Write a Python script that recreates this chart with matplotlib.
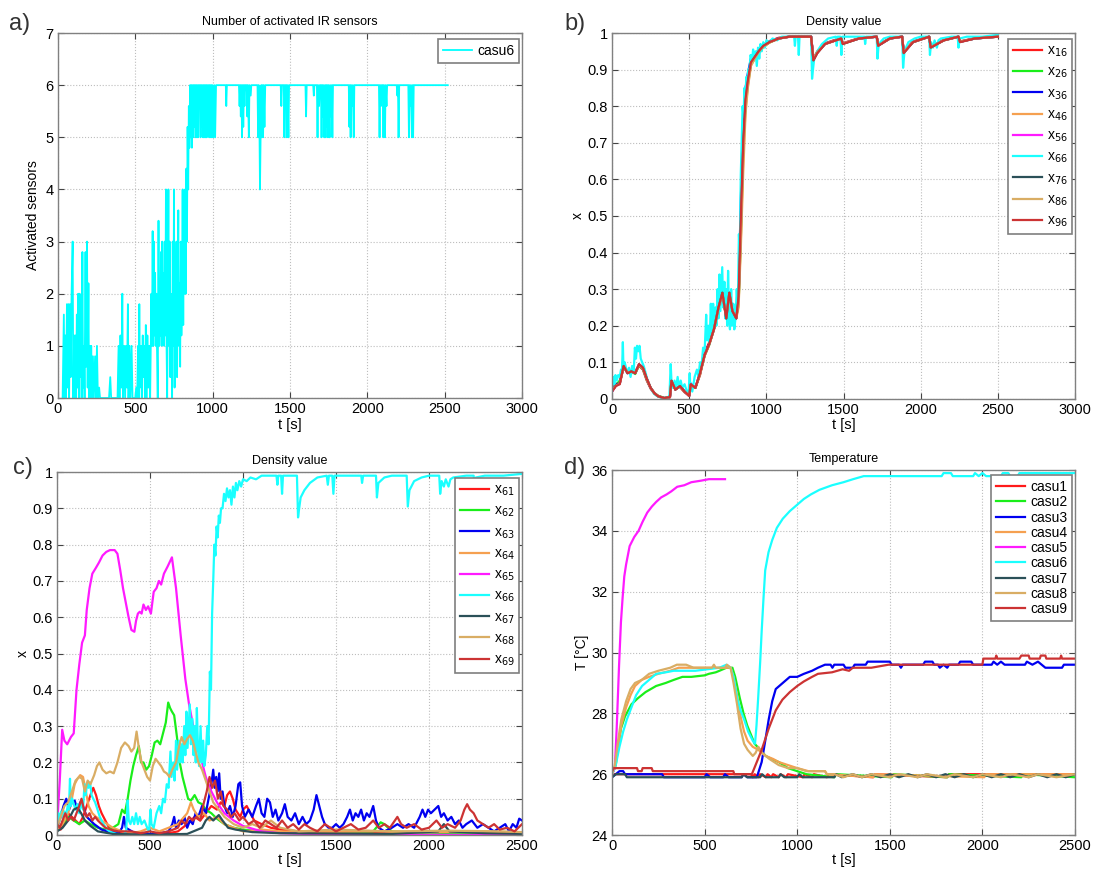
import numpy as np
import matplotlib
matplotlib.use('Agg')
import matplotlib.pyplot as plt
from matplotlib.ticker import FuncFormatter

plt.rcParams['font.family'] = ['Liberation Sans', 'DejaVu Sans']

# ---------------- panel a: activated IR sensors (casu6) ----------------
ir_casu6 = [
    (30, 0), (38, 1.6), (42, 0), (48, 1.2), (52, 0), (58, 1.8), (62, 0.2), (68, 1.8), (72, 0),
    (78, 1.8), (82, 0.4), (88, 2.0), (95, 3.0), (99, 0), (104, 1.2), (108, 0), (113, 1.2), (117, 0),
    (122, 1.6), (126, 0.2), (131, 2.0), (135, 0), (140, 2.0), (144, 0.4), (149, 1.6), (153, 0),
    (158, 2.8), (162, 0.2), (168, 1.0), (172, 0), (178, 2.8), (182, 0.6), (188, 3.0), (192, 0.2),
    (197, 2.2), (201, 0), (206, 1.0), (210, 0), (215, 1.0), (220, 0), (226, 0.8), (232, 0),
    (240, 0.8), (246, 0), (252, 1.0), (258, 0), (266, 0.2), (272, 0),
    (330, 0), (338, 0.4), (344, 0), (385, 0), (392, 1.0), (398, 0), (404, 1.2), (410, 0.2),
    (416, 2.0), (420, 0), (428, 1.0), (434, 0), (440, 1.0), (446, 0.2), (452, 1.8), (456, 0),
    (462, 1.0), (468, 0), (476, 1.0), (482, 0), (500, 0), (506, 0.2), (512, 0), (518, 1.0),
    (522, 0), (526, 1.8), (530, 0.2), (536, 1.0), (542, 0), (548, 1.2), (552, 0.4), (558, 1.0),
    (562, 0), (568, 1.4), (572, 0), (578, 1.2), (584, 0.2), (590, 1.0), (596, 0),
    (600, 1.0), (604, 2.0), (608, 1.0), (612, 3.2), (616, 1.0), (620, 3.0), (624, 1.2), (628, 2.4),
    (632, 1.0), (636, 2.0), (640, 1.0), (645, 0), (650, 3.4), (654, 1.0), (658, 2.0), (662, 1.2),
    (666, 2.8), (670, 1.0), (674, 3.0), (678, 1.6), (682, 2.4), (686, 1.0), (690, 3.0), (694, 1.2),
    (698, 4.0), (702, 1.0), (706, 0), (710, 2.0), (714, 4.0), (718, 1.0), (722, 3.0), (726, 0.4),
    (730, 2.0), (734, 1.0), (738, 0), (742, 3.0), (746, 1.0), (750, 4.0), (754, 0.2), (758, 2.6),
    (762, 1.0), (766, 3.0), (770, 0.4), (774, 2.0), (778, 3.6), (782, 1.0), (786, 2.2), (790, 0.6),
    (794, 3.0), (798, 1.2), (802, 2.0), (806, 4.0), (810, 1.4), (814, 3.6), (818, 2.0), (822, 4.0),
    (826, 2.0), (830, 4.4), (834, 3.0), (838, 5.2), (842, 4.0), (846, 5.6), (850, 4.8), (854, 6.0),
    (858, 5.0), (862, 6.0), (866, 4.8), (870, 6.0), (874, 5.0), (878, 6.0), (882, 5.2), (886, 6.0),
    (890, 5.0), (894, 6.0), (898, 5.0), (902, 6.0), (906, 5.0), (910, 6.0), (914, 5.6), (918, 6.0),
    (922, 5.0), (926, 6.0), (930, 5.2), (934, 6.0), (938, 5.0), (942, 6.0), (946, 5.0), (950, 6.0),
    (954, 5.0), (958, 6.0), (962, 5.0), (966, 6.0), (970, 5.4), (974, 6.0), (978, 5.0), (982, 6.0),
    (986, 5.0), (990, 6.0), (994, 5.0), (998, 6.0), (1004, 5.0), (1010, 6.0), (1016, 5.0), (1022, 6.0),
    (1085, 6), (1088, 5.6), (1092, 6), (1170, 6), (1174, 5.6), (1178, 6), (1182, 5.4), (1186, 6),
    (1190, 5), (1194, 6), (1198, 5.2), (1202, 6), (1206, 5.6), (1210, 6), (1220, 6), (1224, 5.4),
    (1228, 6), (1234, 5), (1238, 6), (1246, 5.8), (1250, 6), (1290, 6), (1294, 5), (1298, 6),
    (1302, 5.4), (1306, 4), (1310, 5), (1314, 6), (1318, 5), (1322, 6), (1326, 5), (1330, 6),
    (1335, 5.2), (1340, 6), (1440, 6), (1444, 5.6), (1448, 6), (1460, 6), (1464, 5), (1468, 6),
    (1472, 5.8), (1476, 6), (1480, 5), (1484, 6), (1490, 5), (1494, 6), (1600, 6), (1604, 5.4),
    (1608, 6), (1650, 6), (1654, 5.8), (1658, 6), (1674, 6), (1678, 5), (1682, 6), (1688, 5.6),
    (1692, 6), (1700, 6), (1704, 5), (1708, 6), (1712, 5.4), (1716, 6), (1722, 5), (1726, 6),
    (1730, 5), (1734, 6), (1738, 5.2), (1742, 6), (1746, 5), (1750, 6), (1756, 5), (1760, 6),
    (1766, 5.4), (1770, 6), (1774, 5), (1778, 6), (1880, 6), (1884, 5.2), (1888, 6), (1892, 5.0),
    (1896, 6), (1902, 5.6), (1906, 6), (1912, 5), (1916, 6), (2075, 6), (2079, 5), (2083, 6),
    (2088, 5.6), (2092, 6), (2100, 6), (2104, 5), (2108, 6), (2114, 5), (2118, 6), (2124, 5.6),
    (2128, 6), (2190, 6), (2194, 5.8), (2198, 6), (2202, 5), (2206, 6), (2265, 6), (2269, 5),
    (2273, 6), (2278, 5.6), (2282, 6), (2288, 5), (2292, 6), (2296, 5), (2300, 6), (2520, 6),
]

# ---------------- panel b: density x_i6 ----------------
t_b = [0, 25, 50, 75, 100,
       125, 150, 175, 200, 225,
       250, 275, 300, 340, 375,
       385, 410, 440, 470, 500,
       510, 540, 570, 600, 630,
       660, 690, 715, 740, 760,
       780, 805, 820, 835, 850,
       865, 880, 900, 925, 950,
       980, 1020, 1080, 1150, 1290,
       1305, 1330, 1380, 1450, 1485,
       1495, 1600, 1715, 1725, 1800,
       1880, 1890, 1950, 2055, 2065,
       2150, 2245, 2255, 2350, 2500]

x16 = [0.03, 0.04, 0.045, 0.085, 0.075, 0.07, 0.075, 0.09, 0.08, 0.05,
       0.028, 0.014, 0.006, 0.002, 0.004, 0.045, 0.028, 0.032, 0.018, 0.01,
       0.035, 0.032, 0.065, 0.125, 0.155, 0.2, 0.24, 0.28, 0.23, 0.28,
       0.245, 0.225, 0.27, 0.48, 0.72, 0.84, 0.88, 0.925, 0.94, 0.955,
       0.968, 0.978, 0.987, 0.99, 0.99, 0.93, 0.95, 0.972, 0.982, 0.986,
       0.972, 0.986, 0.99, 0.968, 0.986, 0.99, 0.95, 0.977, 0.99, 0.962,
       0.982, 0.99, 0.977, 0.986, 0.99]
x26 = [0.025, 0.038, 0.05, 0.088, 0.072, 0.078, 0.068, 0.092, 0.082, 0.052,
       0.03, 0.016, 0.008, 0.003, 0.005, 0.048, 0.026, 0.034, 0.02, 0.009,
       0.038, 0.03, 0.068, 0.118, 0.148, 0.19, 0.245, 0.285, 0.225, 0.285,
       0.24, 0.225, 0.26, 0.45, 0.68, 0.8, 0.86, 0.915, 0.93, 0.948,
       0.962, 0.974, 0.985, 0.99, 0.99, 0.928, 0.946, 0.97, 0.98, 0.985,
       0.97, 0.985, 0.99, 0.966, 0.985, 0.99, 0.948, 0.975, 0.99, 0.961,
       0.98, 0.99, 0.976, 0.985, 0.99]
x36 = [0.02, 0.04, 0.042, 0.092, 0.07, 0.074, 0.072, 0.094, 0.086, 0.054,
       0.029, 0.015, 0.007, 0.002, 0.005, 0.05, 0.026, 0.036, 0.02, 0.008,
       0.042, 0.03, 0.07, 0.122, 0.152, 0.19, 0.25, 0.29, 0.225, 0.29,
       0.24, 0.22, 0.3, 0.55, 0.75, 0.85, 0.89, 0.93, 0.94, 0.952,
       0.966, 0.976, 0.986, 0.99, 0.99, 0.928, 0.947, 0.971, 0.981, 0.985,
       0.971, 0.985, 0.99, 0.966, 0.985, 0.99, 0.946, 0.976, 0.99, 0.961,
       0.981, 0.99, 0.976, 0.985, 0.99]
x46 = [0.022, 0.036, 0.044, 0.088, 0.072, 0.072, 0.07, 0.093, 0.084, 0.056,
       0.031, 0.016, 0.008, 0.002, 0.005, 0.047, 0.027, 0.034, 0.019, 0.009,
       0.038, 0.031, 0.066, 0.118, 0.148, 0.188, 0.245, 0.285, 0.22, 0.285,
       0.24, 0.22, 0.25, 0.42, 0.62, 0.78, 0.85, 0.91, 0.93, 0.946,
       0.962, 0.974, 0.985, 0.99, 0.99, 0.93, 0.948, 0.971, 0.981, 0.985,
       0.972, 0.985, 0.99, 0.967, 0.985, 0.99, 0.948, 0.976, 0.99, 0.962,
       0.981, 0.99, 0.977, 0.985, 0.99]
x56 = [0.02, 0.036, 0.042, 0.09, 0.071, 0.076, 0.071, 0.094, 0.085, 0.055,
       0.03, 0.015, 0.007, 0.002, 0.005, 0.049, 0.026, 0.035, 0.02, 0.008,
       0.04, 0.031, 0.069, 0.12, 0.15, 0.19, 0.248, 0.288, 0.222, 0.288,
       0.242, 0.222, 0.275, 0.49, 0.7, 0.82, 0.87, 0.92, 0.935, 0.95,
       0.965, 0.975, 0.985, 0.99, 0.99, 0.927, 0.946, 0.97, 0.98, 0.985,
       0.971, 0.985, 0.99, 0.966, 0.985, 0.99, 0.947, 0.975, 0.99, 0.961,
       0.98, 0.99, 0.976, 0.985, 0.99]
x76 = [0.021, 0.037, 0.043, 0.089, 0.071, 0.075, 0.07, 0.094, 0.085, 0.055,
       0.03, 0.015, 0.007, 0.002, 0.005, 0.049, 0.025, 0.035, 0.02, 0.008,
       0.039, 0.03, 0.069, 0.12, 0.15, 0.19, 0.25, 0.29, 0.22, 0.29,
       0.24, 0.22, 0.27, 0.47, 0.69, 0.81, 0.865, 0.918, 0.934, 0.95,
       0.964, 0.975, 0.985, 0.99, 0.99, 0.926, 0.946, 0.97, 0.98, 0.985,
       0.971, 0.985, 0.99, 0.966, 0.985, 0.99, 0.946, 0.975, 0.99, 0.961,
       0.98, 0.99, 0.976, 0.985, 0.99]
x86 = [0.022, 0.036, 0.041, 0.088, 0.072, 0.074, 0.071, 0.093, 0.084, 0.054,
       0.029, 0.015, 0.007, 0.002, 0.005, 0.048, 0.026, 0.034, 0.02, 0.008,
       0.039, 0.03, 0.068, 0.119, 0.149, 0.19, 0.248, 0.287, 0.222, 0.288,
       0.241, 0.221, 0.26, 0.44, 0.66, 0.79, 0.855, 0.912, 0.93, 0.948,
       0.963, 0.974, 0.985, 0.99, 0.99, 0.928, 0.947, 0.97, 0.98, 0.985,
       0.971, 0.985, 0.99, 0.966, 0.985, 0.99, 0.947, 0.975, 0.99, 0.961,
       0.98, 0.99, 0.976, 0.985, 0.99]
x96 = [0.02, 0.035, 0.04, 0.09, 0.07, 0.075, 0.07, 0.095, 0.085, 0.055,
       0.03, 0.015, 0.007, 0.002, 0.005, 0.05, 0.025, 0.035, 0.02, 0.008,
       0.04, 0.03, 0.07, 0.12, 0.15, 0.19, 0.25, 0.29, 0.22, 0.29,
       0.24, 0.22, 0.28, 0.5, 0.7, 0.82, 0.87, 0.92, 0.935, 0.95,
       0.965, 0.975, 0.985, 0.99, 0.99, 0.925, 0.945, 0.97, 0.98, 0.985,
       0.97, 0.985, 0.99, 0.965, 0.985, 0.99, 0.945, 0.975, 0.99, 0.96,
       0.98, 0.99, 0.975, 0.985, 0.99]

# x66 (casu6 density) is shared by panels b and c
x66 = [
    (0, 0.03), (8, 0.06), (15, 0.04), (22, 0.065), (30, 0.05), (40, 0.065), (50, 0.06), (58, 0.08),
    (64, 0.07), (70, 0.155), (74, 0.08), (82, 0.1), (90, 0.085), (100, 0.07), (110, 0.085),
    (120, 0.06), (130, 0.09), (140, 0.07), (148, 0.14), (155, 0.11), (162, 0.145), (170, 0.13),
    (178, 0.145), (186, 0.11), (195, 0.1), (205, 0.09), (215, 0.075), (230, 0.05), (250, 0.03),
    (270, 0.015), (290, 0.008), (320, 0.003), (360, 0.002), (372, 0.01), (380, 0.095), (386, 0.04),
    (395, 0.03), (405, 0.05), (415, 0.03), (425, 0.06), (435, 0.03), (445, 0.05), (455, 0.03),
    (470, 0.04), (485, 0.02), (495, 0.01), (503, 0.07), (508, 0.03), (520, 0.02), (535, 0.06),
    (550, 0.08), (560, 0.06), (570, 0.1), (580, 0.09), (590, 0.14), (600, 0.13), (610, 0.23),
    (616, 0.16), (625, 0.2), (632, 0.15), (640, 0.26), (646, 0.18), (655, 0.26), (662, 0.2),
    (670, 0.25), (676, 0.2), (684, 0.3), (690, 0.22), (696, 0.34), (702, 0.24), (708, 0.3),
    (714, 0.36), (720, 0.25), (728, 0.32), (734, 0.22), (740, 0.3), (746, 0.2), (752, 0.35),
    (758, 0.24), (764, 0.19), (772, 0.3), (778, 0.2), (786, 0.26), (792, 0.19), (800, 0.22),
    (808, 0.3), (815, 0.25), (822, 0.45), (828, 0.4), (834, 0.61), (840, 0.7), (846, 0.8),
    (852, 0.77), (858, 0.85), (864, 0.82), (870, 0.88), (876, 0.86), (882, 0.9), (890, 0.9),
    (898, 0.94), (906, 0.92), (914, 0.955), (922, 0.93), (930, 0.95), (938, 0.91), (946, 0.96),
    (954, 0.93), (962, 0.97), (970, 0.95), (980, 0.975), (990, 0.96), (1000, 0.98), (1020, 0.975),
    (1040, 0.985), (1070, 0.98), (1100, 0.99), (1150, 0.99), (1180, 0.99), (1185, 0.965),
    (1190, 0.99), (1205, 0.99), (1210, 0.94), (1215, 0.99), (1280, 0.99), (1290, 0.99),
    (1296, 0.875), (1302, 0.9), (1310, 0.93), (1330, 0.95), (1360, 0.97), (1400, 0.985),
    (1450, 0.99), (1456, 0.965), (1462, 0.99), (1480, 0.99), (1486, 0.94), (1492, 0.99),
    (1550, 0.99), (1600, 0.99), (1636, 0.99), (1640, 0.97), (1646, 0.99), (1715, 0.99),
    (1720, 0.93), (1728, 0.97), (1760, 0.985), (1800, 0.99), (1880, 0.99), (1886, 0.905),
    (1895, 0.95), (1920, 0.975), (1960, 0.985), (2000, 0.99), (2055, 0.99), (2060, 0.94),
    (2068, 0.975), (2080, 0.96), (2090, 0.98), (2105, 0.96), (2115, 0.98), (2130, 0.985),
    (2200, 0.99), (2240, 0.99), (2245, 0.96), (2252, 0.985), (2300, 0.99), (2400, 0.99),
    (2500, 0.995),
]

# ---------------- panel c: density x_6j ----------------
x61 = [(0, 0.02), (20, 0.015), (40, 0.03), (60, 0.06), (80, 0.05), (100, 0.04), (120, 0.03),
       (140, 0.05), (160, 0.08), (180, 0.11), (195, 0.13), (210, 0.11), (225, 0.08), (240, 0.06),
       (260, 0.04), (280, 0.02), (300, 0.01), (350, 0.005), (400, 0.003), (500, 0.002),
       (600, 0.005), (650, 0.01), (700, 0.03), (740, 0.05), (770, 0.04), (800, 0.06), (830, 0.08),
       (860, 0.07), (880, 0.09), (900, 0.08), (915, 0.11), (930, 0.12), (945, 0.1), (960, 0.07),
       (985, 0.05), (1000, 0.07), (1020, 0.08), (1040, 0.06), (1060, 0.04), (1100, 0.03),
       (1150, 0.02), (1200, 0.015), (1300, 0.01), (1400, 0.008), (1600, 0.006), (1800, 0.005),
       (2000, 0.01), (2100, 0.005), (2300, 0.008), (2500, 0.005)]
x62 = [(0, 0.02), (30, 0.03), (60, 0.05), (90, 0.04), (120, 0.03), (150, 0.04), (180, 0.03),
       (220, 0.02), (260, 0.015), (300, 0.02), (330, 0.03), (350, 0.07), (365, 0.06), (380, 0.1),
       (395, 0.15), (410, 0.19), (425, 0.22), (440, 0.245), (452, 0.2), (465, 0.2), (480, 0.18),
       (495, 0.19), (510, 0.22), (525, 0.255), (540, 0.26), (555, 0.25), (570, 0.28), (585, 0.31),
       (598, 0.365), (608, 0.35), (618, 0.34), (630, 0.33), (645, 0.27), (660, 0.2), (675, 0.16),
       (690, 0.13), (705, 0.1), (720, 0.095), (740, 0.11), (760, 0.09), (780, 0.085), (800, 0.07),
       (830, 0.06), (860, 0.045), (900, 0.03), (950, 0.02), (1000, 0.015), (1100, 0.01),
       (1300, 0.006), (1500, 0.005), (1700, 0.01), (1740, 0.035), (1760, 0.03), (1800, 0.01),
       (2000, 0.005), (2500, 0.003)]
x63 = [(0, 0.02), (20, 0.05), (35, 0.08), (50, 0.1), (65, 0.07), (80, 0.09), (95, 0.095),
       (110, 0.07), (125, 0.09), (140, 0.08), (160, 0.05), (180, 0.04), (200, 0.03), (240, 0.015),
       (280, 0.008), (330, 0.005), (350, 0.02), (360, 0.05), (370, 0.02), (420, 0.005),
       (500, 0.003), (560, 0.005), (600, 0.01), (620, 0.03), (630, 0.05), (640, 0.02), (655, 0.04),
       (670, 0.03), (685, 0.05), (700, 0.02), (715, 0.04), (730, 0.03), (745, 0.06), (760, 0.05),
       (780, 0.08), (800, 0.06), (815, 0.1), (830, 0.14), (840, 0.18), (848, 0.13), (856, 0.16),
       (864, 0.12), (872, 0.17), (880, 0.1), (890, 0.12), (900, 0.08), (915, 0.06), (930, 0.08),
       (945, 0.05), (960, 0.08), (975, 0.14), (985, 0.145), (995, 0.08), (1010, 0.05),
       (1030, 0.07), (1050, 0.05), (1070, 0.08), (1085, 0.1), (1100, 0.06), (1115, 0.05),
       (1130, 0.1), (1145, 0.09), (1160, 0.05), (1175, 0.07), (1190, 0.04), (1210, 0.06),
       (1225, 0.085), (1240, 0.05), (1260, 0.04), (1280, 0.06), (1300, 0.03), (1320, 0.05),
       (1340, 0.03), (1360, 0.04), (1380, 0.07), (1395, 0.11), (1410, 0.08), (1425, 0.05),
       (1440, 0.03), (1460, 0.02), (1480, 0.02), (1500, 0.03), (1520, 0.02), (1540, 0.03),
       (1560, 0.05), (1575, 0.07), (1590, 0.04), (1605, 0.06), (1620, 0.05), (1635, 0.07),
       (1650, 0.04), (1665, 0.06), (1680, 0.05), (1700, 0.08), (1715, 0.04), (1730, 0.02),
       (1760, 0.01), (1800, 0.02), (1830, 0.03), (1860, 0.02), (1890, 0.03), (1920, 0.02),
       (1950, 0.05), (1965, 0.07), (1980, 0.05), (1995, 0.07), (2010, 0.06), (2030, 0.07),
       (2050, 0.08), (2065, 0.05), (2080, 0.06), (2100, 0.04), (2120, 0.05), (2140, 0.03),
       (2160, 0.04), (2180, 0.02), (2200, 0.03), (2230, 0.04), (2260, 0.02), (2290, 0.03),
       (2320, 0.02), (2350, 0.01), (2380, 0.02), (2410, 0.03), (2430, 0.01), (2450, 0.03),
       (2470, 0.02), (2485, 0.045), (2500, 0.04)]
x64 = [(0, 0.01), (30, 0.03), (60, 0.06), (80, 0.1), (95, 0.14), (110, 0.155), (125, 0.165),
       (140, 0.16), (155, 0.12), (170, 0.08), (190, 0.06), (210, 0.05), (240, 0.04), (270, 0.03),
       (300, 0.02), (350, 0.01), (400, 0.005), (450, 0.01), (500, 0.02), (550, 0.01), (600, 0.02),
       (650, 0.03), (700, 0.06), (720, 0.09), (735, 0.07), (760, 0.05), (790, 0.06), (820, 0.04),
       (860, 0.05), (900, 0.03), (950, 0.02), (1000, 0.01), (1100, 0.015), (1200, 0.01),
       (1400, 0.008), (1700, 0.01), (2000, 0.008), (2300, 0.01), (2500, 0.005)]
x65 = [(0, 0.02), (15, 0.15), (28, 0.29), (40, 0.26), (55, 0.25), (75, 0.27), (90, 0.28),
       (105, 0.4), (120, 0.47), (135, 0.53), (150, 0.55), (160, 0.62), (175, 0.68), (190, 0.72),
       (208, 0.735), (225, 0.75), (245, 0.77), (265, 0.78), (285, 0.785), (310, 0.785),
       (325, 0.775), (340, 0.73), (355, 0.68), (370, 0.64), (385, 0.6), (400, 0.565), (416, 0.56),
       (425, 0.59), (435, 0.61), (445, 0.615), (455, 0.61), (465, 0.635), (478, 0.62),
       (490, 0.63), (505, 0.61), (520, 0.67), (535, 0.68), (548, 0.7), (560, 0.69), (575, 0.72),
       (595, 0.74), (618, 0.765), (640, 0.68), (665, 0.55), (690, 0.43), (710, 0.36),
       (740, 0.28), (770, 0.22), (800, 0.16), (830, 0.12), (860, 0.09), (900, 0.06), (950, 0.04),
       (1000, 0.025), (1100, 0.01), (1200, 0.005), (1400, 0.002), (1700, 0.001), (2500, 0.0)]
x67 = [(0, 0.01), (30, 0.02), (60, 0.04), (90, 0.07), (110, 0.075), (130, 0.06), (150, 0.04),
       (180, 0.025), (220, 0.01), (300, 0.003), (500, 0.001), (700, 0.003), (780, 0.02),
       (800, 0.04), (820, 0.05), (840, 0.04), (870, 0.055), (890, 0.04), (920, 0.02),
       (960, 0.015), (1050, 0.008), (1200, 0.005), (1500, 0.004), (1800, 0.003), (2050, 0.01),
       (2080, 0.03), (2110, 0.01), (2300, 0.005), (2500, 0.003)]
x68 = [(0, 0.02), (20, 0.05), (40, 0.08), (60, 0.09), (80, 0.12), (100, 0.15), (120, 0.16),
       (135, 0.155), (150, 0.12), (165, 0.15), (180, 0.14), (200, 0.165), (215, 0.19), (228, 0.2),
       (245, 0.18), (265, 0.17), (285, 0.175), (305, 0.17), (325, 0.2), (345, 0.24), (365, 0.255),
       (385, 0.245), (400, 0.23), (415, 0.24), (428, 0.285), (440, 0.24), (455, 0.2), (470, 0.18),
       (485, 0.16), (500, 0.15), (515, 0.19), (530, 0.21), (545, 0.2), (560, 0.19), (575, 0.175),
       (590, 0.17), (605, 0.16), (620, 0.18), (640, 0.2), (655, 0.24), (670, 0.27), (685, 0.25),
       (700, 0.265), (715, 0.275), (730, 0.26), (745, 0.23), (760, 0.2), (780, 0.18), (800, 0.15),
       (820, 0.12), (840, 0.09), (870, 0.07), (900, 0.05), (950, 0.03), (1000, 0.02), (1050, 0.03),
       (1100, 0.02), (1150, 0.04), (1200, 0.02), (1300, 0.01), (1500, 0.015), (1800, 0.01),
       (2100, 0.012), (2400, 0.01), (2500, 0.008)]
x69 = [(0, 0.03), (15, 0.02), (30, 0.04), (45, 0.06), (60, 0.04), (75, 0.05), (90, 0.04),
       (105, 0.06), (120, 0.08), (132, 0.1), (145, 0.07), (160, 0.05), (175, 0.06), (190, 0.04),
       (205, 0.05), (220, 0.04), (240, 0.03), (260, 0.02), (290, 0.015), (330, 0.01), (400, 0.01),
       (450, 0.005), (500, 0.01), (550, 0.005), (600, 0.01), (650, 0.02), (670, 0.04), (690, 0.03),
       (710, 0.05), (730, 0.04), (750, 0.05), (770, 0.04), (790, 0.09), (805, 0.12), (820, 0.16),
       (835, 0.13), (850, 0.15), (865, 0.1), (880, 0.12), (895, 0.08), (915, 0.07), (935, 0.05),
       (955, 0.06), (980, 0.04), (1000, 0.05), (1030, 0.03), (1060, 0.04), (1090, 0.02),
       (1120, 0.04), (1150, 0.03), (1180, 0.02), (1210, 0.04), (1240, 0.02), (1270, 0.03),
       (1300, 0.015), (1330, 0.03), (1360, 0.02), (1400, 0.01), (1440, 0.03), (1470, 0.02),
       (1500, 0.01), (1540, 0.02), (1580, 0.03), (1620, 0.015), (1660, 0.02), (1700, 0.04),
       (1730, 0.02), (1760, 0.03), (1790, 0.02), (1830, 0.05), (1850, 0.03), (1880, 0.02),
       (1920, 0.03), (1960, 0.015), (2000, 0.02), (2040, 0.04), (2070, 0.02), (2100, 0.03),
       (2140, 0.02), (2170, 0.04), (2190, 0.07), (2205, 0.085), (2220, 0.07), (2240, 0.06),
       (2260, 0.04), (2290, 0.03), (2320, 0.02), (2350, 0.03), (2380, 0.015), (2420, 0.02),
       (2460, 0.01), (2500, 0.03)]

# ---------------- panel d: temperature ----------------
casu1 = [(0, 26.0), (750, 26.0), (760, 25.9), (770, 26.0), (790, 25.9), (800, 26.0), (830, 25.9),
         (840, 26.0), (860, 25.9), (870, 26.0), (900, 25.9), (910, 26.0), (940, 25.9), (950, 26.0),
         (1030, 25.9), (1040, 26.0), (1080, 25.9), (1090, 26.0), (1160, 25.9), (1170, 26.0),
         (1410, 25.9), (1420, 26.0), (1810, 25.9), (1820, 26.0), (2500, 26.0)]
casu2 = [(0, 26.0), (20, 26.3), (35, 27.0), (48, 27.5), (70, 27.9), (105, 28.3), (140, 28.5),
         (181, 28.7), (238, 28.9), (290, 29.0), (333, 29.1), (380, 29.2), (428, 29.2), (500, 29.25),
         (523, 29.3), (560, 29.35), (580, 29.4), (618, 29.5), (650, 29.5), (665, 29.2), (690, 28.5),
         (710, 28.0), (730, 27.6), (750, 27.3), (770, 27.0), (800, 26.8), (830, 26.6), (860, 26.5),
         (900, 26.4), (950, 26.2), (1000, 26.1), (1050, 26.0), (1200, 25.9), (1210, 26.0),
         (1510, 25.9), (1520, 26.0), (1810, 25.9), (1820, 26.0), (2210, 25.9), (2220, 26.0),
         (2500, 25.9)]
casu3 = [(0, 25.9), (20, 26.0), (40, 26.1), (60, 26.1), (70, 26.0), (270, 26.0), (280, 25.9),
         (500, 25.9), (510, 26.0), (530, 25.9), (600, 25.9), (610, 26.0), (630, 25.9), (700, 25.9),
         (710, 26.0), (730, 25.9), (782, 25.9), (808, 26.4), (830, 27.2), (846, 27.8), (865, 28.4),
         (884, 28.8), (922, 29.0), (960, 29.2), (1000, 29.2), (1036, 29.3), (1080, 29.4),
         (1112, 29.5), (1150, 29.6), (1180, 29.6), (1190, 29.5), (1200, 29.6), (1250, 29.6),
         (1260, 29.5), (1300, 29.5), (1310, 29.6), (1370, 29.6), (1380, 29.7), (1500, 29.7),
         (1510, 29.6), (1550, 29.6), (1560, 29.5), (1570, 29.6), (1680, 29.6), (1690, 29.7),
         (1730, 29.7), (1740, 29.6), (1760, 29.6), (1770, 29.5), (1790, 29.6), (1810, 29.5),
         (1820, 29.6), (1870, 29.6), (1880, 29.7), (1940, 29.7), (1950, 29.6), (2050, 29.6),
         (2060, 29.7), (2080, 29.6), (2100, 29.7), (2120, 29.6), (2230, 29.6), (2240, 29.7),
         (2270, 29.6), (2300, 29.7), (2320, 29.6), (2340, 29.5), (2430, 29.5), (2440, 29.6),
         (2500, 29.6)]
casu4 = [(0, 26.0), (15, 26.2), (30, 26.8), (50, 27.6), (76, 28.2), (100, 28.6), (124, 28.9),
         (160, 29.1), (200, 29.2), (250, 29.3), (314, 29.4), (360, 29.5), (640, 29.5), (656, 29.2),
         (675, 28.6), (694, 27.9), (713, 27.4), (732, 27.1), (760, 26.9), (790, 26.8), (830, 26.6),
         (870, 26.5), (900, 26.4), (950, 26.3), (1000, 26.2), (1060, 26.1), (1150, 26.1),
         (1160, 26.0), (1410, 25.9), (1420, 26.0), (2010, 25.9), (2020, 26.0), (2500, 26.0)]
casu5 = [(0, 26.0), (15, 26.2), (25, 27.5), (38, 29.6), (48, 31.0), (57, 31.8), (66, 32.5),
         (76, 32.9), (95, 33.5), (120, 33.8), (143, 34.0), (165, 34.3), (190, 34.6), (215, 34.8),
         (238, 34.95), (265, 35.1), (295, 35.2), (320, 35.3), (352, 35.45), (390, 35.5),
         (428, 35.6), (480, 35.65), (523, 35.7), (610, 35.7)]
casu6 = [(0, 26.0), (20, 26.3), (40, 26.9), (60, 27.4), (80, 27.8), (105, 28.2), (130, 28.6),
         (162, 28.9), (200, 29.1), (238, 29.3), (290, 29.35), (333, 29.4), (450, 29.4), (580, 29.5),
         (618, 29.6), (640, 29.5), (656, 29.2), (675, 28.5), (694, 28.1), (713, 27.8), (735, 27.4),
         (760, 27.1), (772, 27.0), (780, 27.6), (789, 28.5), (800, 29.7), (808, 30.7), (818, 31.8),
         (827, 32.7), (845, 33.3), (865, 33.7), (890, 34.1), (922, 34.4), (960, 34.65), (998, 34.85),
         (1036, 35.05), (1074, 35.2), (1120, 35.35), (1188, 35.5), (1250, 35.6), (1302, 35.7),
         (1359, 35.8), (1780, 35.8), (1790, 35.9), (1830, 35.9), (1840, 35.8), (1950, 35.8),
         (1960, 35.9), (1980, 35.8), (2000, 35.9), (2020, 35.8), (2100, 35.8), (2110, 35.9),
         (2140, 35.9), (2150, 35.8), (2190, 35.8), (2200, 35.9), (2500, 35.9)]
casu7 = [(0, 25.9), (20, 26.0), (70, 26.0), (80, 25.9), (700, 25.9), (710, 26.0), (730, 25.9),
         (800, 25.9), (810, 26.0), (830, 25.9), (900, 25.9), (910, 26.0), (930, 25.9), (1000, 25.9),
         (1010, 26.0), (1030, 25.9), (1200, 25.9), (1210, 26.0), (1240, 25.9), (1300, 26.0),
         (1350, 25.9), (1400, 26.0), (1450, 25.9), (1500, 26.0), (1550, 25.9), (1600, 26.0),
         (1650, 25.9), (1700, 26.0), (1750, 25.9), (1800, 26.0), (1850, 25.9), (1900, 26.0),
         (1950, 25.9), (2000, 26.0), (2050, 25.9), (2100, 26.0), (2150, 25.9), (2200, 26.0),
         (2250, 25.9), (2300, 26.0), (2350, 25.9), (2400, 26.0), (2450, 25.9), (2500, 26.0)]
casu8 = [(0, 26.0), (15, 26.3), (30, 27.0), (50, 27.8), (76, 28.4), (100, 28.8), (124, 29.0),
         (160, 29.1), (200, 29.3), (250, 29.4), (314, 29.5), (350, 29.6), (400, 29.6), (440, 29.5),
         (540, 29.5), (550, 29.6), (560, 29.5), (610, 29.5), (620, 29.6), (640, 29.5), (656, 29.0),
         (675, 28.3), (694, 27.5), (713, 27.0), (732, 26.8), (760, 26.6), (775, 26.7), (790, 26.9),
         (810, 26.7), (850, 26.5), (900, 26.3), (950, 26.2), (1000, 26.2), (1050, 26.1),
         (1150, 26.1), (1160, 26.0), (1200, 26.0), (1250, 25.9), (1300, 26.0), (1350, 25.9),
         (1400, 26.0), (1500, 25.9), (1550, 26.0), (1650, 25.9), (1700, 26.0), (1800, 25.9),
         (1850, 26.0), (1950, 25.9), (2000, 26.0), (2100, 25.9), (2150, 26.0), (2250, 25.9),
         (2300, 26.0), (2400, 25.9), (2500, 26.0)]
casu9 = [(0, 26.1), (10, 26.2), (135, 26.2), (140, 26.1), (160, 26.1), (165, 26.2), (214, 26.2),
         (220, 26.1), (655, 26.1), (660, 26.0), (755, 26.0), (775, 26.3), (808, 26.8), (846, 27.5),
         (884, 28.1), (920, 28.45), (960, 28.7), (1000, 28.9), (1036, 29.05), (1080, 29.2),
         (1112, 29.3), (1188, 29.35), (1245, 29.45), (1280, 29.4), (1300, 29.5), (1400, 29.5),
         (1493, 29.6), (2000, 29.6), (2005, 29.8), (2070, 29.8), (2075, 29.9), (2080, 29.8),
         (2200, 29.8), (2210, 29.9), (2250, 29.9), (2255, 29.8), (2310, 29.8), (2315, 29.9),
         (2340, 29.9), (2345, 29.8), (2420, 29.8), (2425, 29.9), (2430, 29.8), (2500, 29.8)]

colors = ['#FF1A1A', '#1AEE1A', '#0000F0', '#F5A050', '#FF1AFF',
          '#1AFFFF', '#2B5058', '#D9AD64', '#CC3333']


def xy(pairs):
    arr = np.array(pairs, dtype=float)
    return arr[:, 0], arr[:, 1]


def style(ax):
    ax.grid(True, linestyle=':', color='#bdbdbd', linewidth=0.8)
    ax.set_axisbelow(True)
    ax.tick_params(direction='in', top=True, right=True, labelsize=10.5,
                   length=4, color='#444444', pad=3)
    ax.xaxis.set_major_formatter(FuncFormatter(lambda v, p: f'{v:g}'))
    ax.yaxis.set_major_formatter(FuncFormatter(lambda v, p: f'{v:g}'))
    for s in ax.spines.values():
        s.set_color('#808080')
        s.set_linewidth(1.0)


def legend(ax, anchor, **kw):
    lg = ax.legend(loc='upper right', bbox_to_anchor=anchor, borderaxespad=0,
                   fontsize=10, fancybox=False, framealpha=1, edgecolor='#7f7f7f',
                   handlelength=2.1, handletextpad=0.35, borderpad=0.35, **kw)
    lg.get_frame().set_linewidth(1.2)
    return lg


fig = plt.figure(figsize=(11.02, 8.69), dpi=100)

ax_a = fig.add_axes([0.0526, 0.542, 0.4211, 0.420])
ax_b = fig.add_axes([0.5554, 0.541, 0.4201, 0.421])
ax_c = fig.add_axes([0.0517, 0.0391, 0.422, 0.4177])
ax_d = fig.add_axes([0.5554, 0.0391, 0.4201, 0.420])

# a)
t, v = xy(ir_casu6)
ax_a.plot(t, v, color='#00FFFF', linewidth=1.3, label='casu6')
ax_a.set_xlim(0, 3000)
ax_a.set_ylim(0, 7)
ax_a.set_xticks(np.arange(0, 3001, 500))
ax_a.set_yticks(np.arange(0, 8, 1))
ax_a.set_title('Number of activated IR sensors', fontsize=9, pad=6)
ax_a.set_xlabel('t [s]', fontsize=10.5, labelpad=1)
ax_a.set_ylabel('Activated sensors', fontsize=10, labelpad=4)
style(ax_a)
legend(ax_a, (0.994, 0.984))

# b)
tb = np.array(t_b, dtype=float)
b_series = [x16, x26, x36, x46, x56, None, x76, x86, x96]
b_labels = ['16', '26', '36', '46', '56', '66', '76', '86', '96']
for i, (s, lab) in enumerate(zip(b_series, b_labels)):
    if s is None:
        t, v = xy(x66)
    else:
        t, v = tb, np.array(s)
    ax_b.plot(t, v, color=colors[i], linewidth=1.6, label=f'x$_{{{lab}}}$')
ax_b.set_xlim(0, 3000)
ax_b.set_ylim(0, 1)
ax_b.set_xticks(np.arange(0, 3001, 500))
ax_b.set_yticks(np.arange(0, 1.01, 0.1))
ax_b.set_title('Density value', fontsize=9, pad=6)
ax_b.set_xlabel('t [s]', fontsize=10.5, labelpad=1)
ax_b.set_ylabel('x', fontsize=10, labelpad=2)
style(ax_b)
legend(ax_b, (0.994, 0.984), labelspacing=0.42)

# c)
c_series = [x61, x62, x63, x64, x65, x66, x67, x68, x69]
c_labels = ['61', '62', '63', '64', '65', '66', '67', '68', '69']
for i, (s, lab) in enumerate(zip(c_series, c_labels)):
    t, v = xy(s)
    ax_c.plot(t, v, color=colors[i], linewidth=1.6, label=f'x$_{{{lab}}}$')
ax_c.set_xlim(0, 2500)
ax_c.set_ylim(0, 1)
ax_c.set_xticks(np.arange(0, 2501, 500))
ax_c.set_yticks(np.arange(0, 1.01, 0.1))
ax_c.set_title('Density value', fontsize=9, pad=6)
ax_c.set_xlabel('t [s]', fontsize=10.5, labelpad=0)
ax_c.set_ylabel('x', fontsize=10, labelpad=2)
style(ax_c)
legend(ax_c, (0.994, 0.984), labelspacing=0.42)

# d)
d_series = [casu1, casu2, casu3, casu4, casu5, casu6, casu7, casu8, casu9]
for i, s in enumerate(d_series):
    t, v = xy(s)
    ax_d.plot(t, v, color=colors[i], linewidth=1.6, label=f'casu{i + 1}')
ax_d.set_xlim(0, 2500)
ax_d.set_ylim(24, 36)
ax_d.set_xticks(np.arange(0, 2501, 500))
ax_d.set_yticks(np.arange(24, 37, 2))
ax_d.set_title('Temperature', fontsize=9, pad=6)
ax_d.set_xlabel('t [s]', fontsize=10.5, labelpad=0)
ax_d.set_ylabel('T [°C]', fontsize=10, labelpad=2)
style(ax_d)
legend(ax_d, (0.994, 0.986), labelspacing=0.09)

# panel letters
for x, y, s in [(0.008, 0.965, 'a)'), (0.512, 0.965, 'b)'), (0.012, 0.455, 'c)'), (0.512, 0.455, 'd)')]:
    fig.text(x, y, s, fontsize=17, color='#333333')

fig.savefig('out.png', dpi=100)
